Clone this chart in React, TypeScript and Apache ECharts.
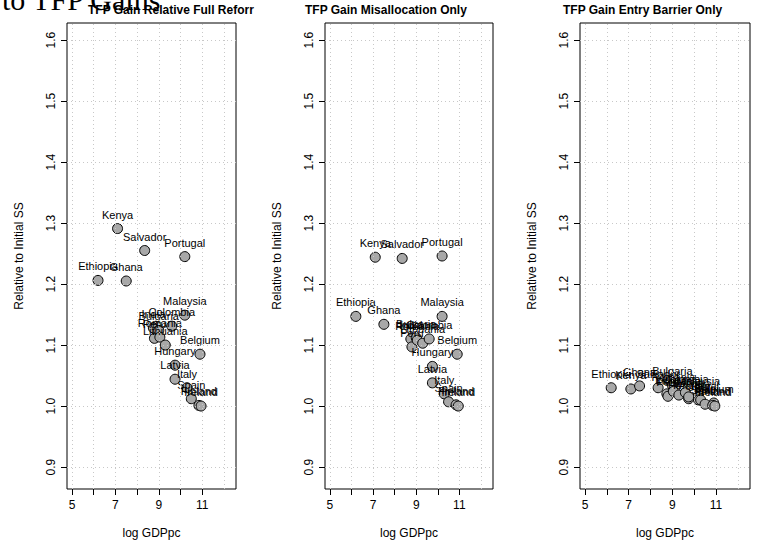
import { useRef, useEffect } from "react";
import * as echarts from "echarts";

const countries = [
  "Ethiopia", "Kenya", "Ghana", "Salvador", "India", "Peru", "Bulgaria", "Romania",
  "Lithuania", "Colombia", "Hungary", "Malaysia", "Portugal", "Belgium", "Latvia",
  "Italy", "Spain", "Finland", "Ireland",
];
const logGdp = [6.2, 7.1, 7.5, 8.35, 8.75, 8.8, 9.0, 9.05, 9.3, 9.6, 9.75, 10.2, 10.2, 10.9, 9.75, 10.3, 10.5, 10.85, 10.95];
const fullGain = [1.206, 1.291, 1.205, 1.255, 1.128, 1.111, 1.124, 1.113, 1.1, 1.131, 1.067, 1.149, 1.245, 1.085, 1.044, 1.03, 1.012, 1.001, 1.0];
const misallocGain = [1.147, 1.244, 1.134, 1.242, 1.11, 1.097, 1.112, 1.108, 1.103, 1.11, 1.065, 1.147, 1.246, 1.085, 1.038, 1.02, 1.007, 1.002, 1.0];
const entryGain = [1.03, 1.028, 1.033, 1.03, 1.02, 1.016, 1.034, 1.024, 1.018, 1.022, 1.012, 1.018, 1.01, 1.005, 1.015, 1.01, 1.003, 1.001, 1.0];
const titles = ["TFP Gain Relative Full Reforr", "TFP Gain Misallocation Only", "TFP Gain Entry Barrier Only"];
const xTicks = [5, 6, 7, 8, 9, 10, 11];
const xLabels = [5, 7, 9, 11];
const xGrid = [5, 6, 7, 8, 9, 10, 11, 12];
const yTicks = [0.9, 1.0, 1.1, 1.2, 1.3, 1.4, 1.5, 1.6];

const FONT = "Liberation Sans, Arial, sans-serif";
const gridLefts = [67, 325, 580];
const gridWidths = [169, 168, 170];
const titleLefts = [88, 305, 563];

const App = () => {
  const chartRef = useRef<HTMLDivElement>(null);

  useEffect(() => {
    document.body.style.margin = "0";
    if (!chartRef.current) return;
    const chart = echarts.init(chartRef.current, null, { renderer: "svg" });
    const series = [fullGain, misallocGain, entryGain];
    const option: any = {
      animation: false,
      backgroundColor: "#fff",
      textStyle: { fontFamily: FONT },
      grid: gridLefts.map((l, i) => ({
        left: l, top: 23, width: gridWidths[i], height: 467,
        show: true, borderColor: "#000", borderWidth: 1, backgroundColor: "transparent",
      })),
      xAxis: gridLefts.map((_, i) => ({
        type: "value", gridIndex: i, min: 4.77, max: 12.56,
        name: "log GDPpc", nameLocation: "middle", nameGap: 38,
        nameTextStyle: { fontSize: 12, color: "#000", fontFamily: FONT },
        axisLine: { show: false },
        splitLine: { show: false },
        axisTick: { show: true, customValues: xTicks, length: 6, lineStyle: { color: "#000" } },
        axisLabel: { customValues: xLabels, color: "#000", fontSize: 12, margin: 10, fontFamily: FONT },
      })),
      yAxis: gridLefts.map((_, i) => ({
        type: "value", gridIndex: i, min: 0.864, max: 1.628,
        name: "Relative to Initial SS", nameLocation: "middle", nameGap: 42,
        nameTextStyle: { fontSize: 12, color: "#000", fontFamily: FONT },
        axisLine: { show: false },
        splitLine: { show: false },
        axisTick: { show: true, customValues: yTicks, length: 6, lineStyle: { color: "#000" } },
        axisLabel: {
          customValues: yTicks, rotate: 90, color: "#000", fontSize: 12, margin: 10, fontFamily: FONT,
          formatter: (v: number) => v.toFixed(1),
        },
      })),
      graphic: [
        {
          type: "text", left: 2, top: -16,
          style: { text: "to TFP Gains", font: "30px 'Liberation Serif', serif", fill: "#000" },
        },
        ...titles.map((t, i) => ({
          type: "text", left: titleLefts[i], top: 4,
          style: { text: t, font: `bold 12px ${FONT}`, fill: "#000" },
        })),
      ],
      series: series.map((vals, i) => ({
        type: "scatter", xAxisIndex: i, yAxisIndex: i,
        data: vals.map((v, k) => ({ value: [logGdp[k], v], name: countries[k] })),
        symbolSize: 10,
        itemStyle: { color: "#a8a8a8", borderColor: "#000", borderWidth: 1, opacity: 1 },
        label: {
          show: true, position: "top", distance: 3, formatter: "{b}",
          fontSize: 11, color: "#000", fontFamily: FONT,
        },
        labelLayout: { hideOverlap: false },
        markLine: {
          silent: true, symbol: "none", label: { show: false },
          lineStyle: { color: "#c8c8c8", type: [1, 3], width: 1 },
          data: [
            ...xGrid.map((x) => ({ xAxis: x })),
            ...yTicks.map((y) => ({ yAxis: y })),
          ],
        },
      })),
    };
    chart.setOption(option);
    return () => chart.dispose();
  }, []);

  return <div ref={chartRef} style={{ width: 765, height: 544 }} />;
};

export default App;
